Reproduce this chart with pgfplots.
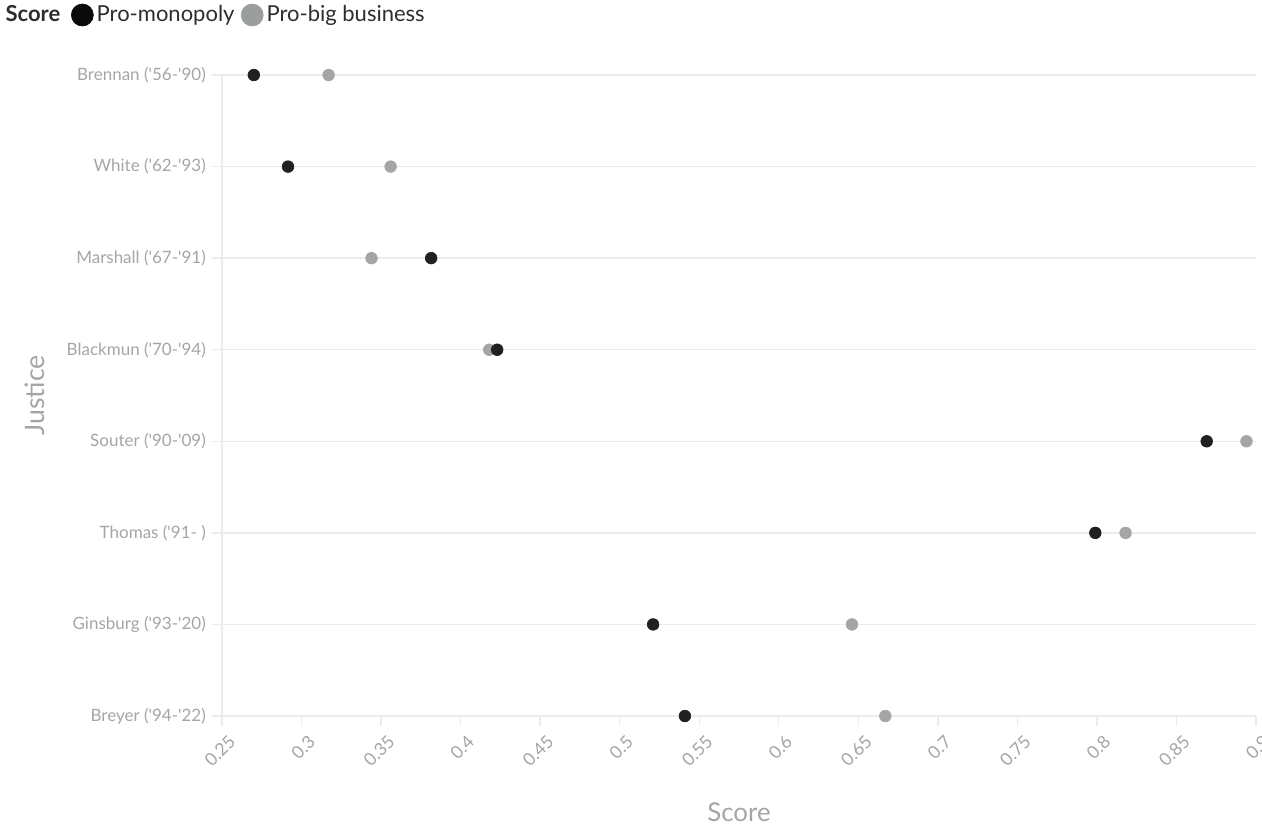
\documentclass[border=0pt]{standalone}
\usepackage{pgfplots}
\pgfplotsset{compat=1.18}
\usepackage{pgfplotstable}
\usepackage{fontspec}
\setmainfont{Lato}
\definecolor{ptblack}{RGB}{32,32,32}
\definecolor{ptgrey}{RGB}{165,165,165}
\definecolor{lgblack}{RGB}{10,10,10}
\definecolor{lggrey}{RGB}{155,158,158}
\definecolor{lblgrey}{RGB}{165,165,165}
\definecolor{legtxt}{RGB}{45,45,45}
\definecolor{gridc}{RGB}{236,236,236}
\pgfplotstableread{
y mono big
0 0.270 0.317
1 0.2915 0.356
2 0.3815 0.344
3 0.423 0.418
4 0.869 0.894
5 0.799 0.818
6 0.521 0.646
7 0.541 0.667
}\scores
\begin{document}
\begin{tikzpicture}
\useasboundingbox (0,0) rectangle (757.2pt,496.2pt);
\begin{axis}[
  at={(133.2pt,66.6pt)}, anchor=south west,
  scale only axis, width=620.4pt, height=384.6pt,
  xmin=0.25, xmax=0.9, ymin=0, ymax=7, y dir=reverse,
  clip=false,
  axis x line=bottom, axis y line=left,
  axis line style={draw=gridc, line width=0.8pt, -},
  xtick={0.25,0.3,0.35,0.4,0.45,0.5,0.55,0.6,0.65,0.7,0.75,0.8,0.85,0.9},
  xticklabels={0.25,0.3,0.35,0.4,0.45,0.5,0.55,0.6,0.65,0.7,0.75,0.8,0.85,0.9},
  ytick={0,1,2,3,4,5,6,7},
  yticklabels={Brennan (\textquotesingle56-\textquotesingle90),White (\textquotesingle62-\textquotesingle93),Marshall (\textquotesingle67-\textquotesingle91),Blackmun (\textquotesingle70-\textquotesingle94),Souter (\textquotesingle90-\textquotesingle09),Thomas (\textquotesingle91- ),Ginsburg (\textquotesingle93-\textquotesingle20),Breyer (\textquotesingle94-\textquotesingle22)},
  tick align=outside, major tick length=6pt,
  tick style={draw=gridc, line width=0.8pt},
  ymajorgrids, grid style={draw=gridc, line width=0.8pt},
  xticklabel style={xshift=3.4pt, yshift=-3pt, rotate=45, anchor=north east, font=\fontsize{10.6}{12}\selectfont, text=lblgrey, inner sep=1pt},
  yticklabel style={font=\fontsize{10.2}{12}\selectfont, text=lblgrey, inner sep=2pt, xshift=-1.5pt},
  xlabel={Score}, ylabel={Justice},
  xlabel style={at={(axis description cs:0.5,-0.1498)}, anchor=center, font=\fontsize{15.5}{17}\selectfont, text=lblgrey},
  ylabel style={at={(axis description cs:-0.181,0.5)}, anchor=center, rotate=0, font=\fontsize{16}{18}\selectfont, text=lblgrey},
  legend columns=3,
  legend style={draw=none, fill=none, at={(axis description cs:-0.2128,1.0936)}, anchor=west,
    font=\fontsize{13.2}{15}\selectfont, text=legtxt, inner sep=0pt,
    /tikz/every even column/.append style={column sep=2pt}},
  legend image post style={mark size=6.6pt},
  legend cell align=left,
]
\addlegendimage{empty legend}
\addlegendentry{\textbf{Score}\kern 2.6pt\mbox{}}
\addlegendimage{only marks, mark=*, color=lgblack}
\addlegendentry{Pro-monopoly}
\addlegendimage{only marks, mark=*, color=lggrey}
\addlegendentry{Pro-big business}
\addplot[only marks, mark=*, mark size=3.5pt, color=ptgrey, forget plot] table[x=big, y=y] {\scores};
\addplot[only marks, mark=*, mark size=3.5pt, color=ptblack, forget plot] table[x=mono, y=y] {\scores};
\end{axis}
\end{tikzpicture}
\end{document}
